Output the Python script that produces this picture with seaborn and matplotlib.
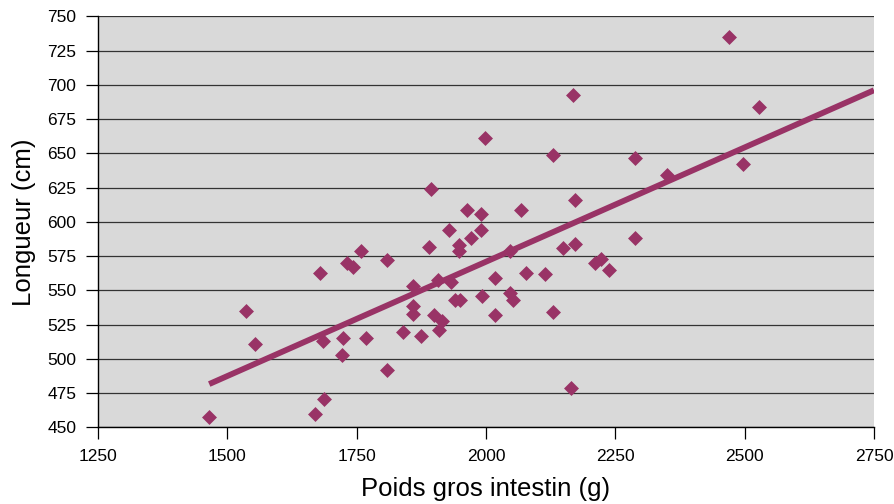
import numpy as np
import pandas as pd
import seaborn as sns
import matplotlib
matplotlib.use("Agg")
import matplotlib.pyplot as plt

# poids du gros intestin (g) et longueur (cm)
poids = [1465, 1537, 1553, 1669, 1680, 1684, 1687, 1722, 1723, 1731,
         1742, 1758, 1769, 1808, 1808, 1839, 1858, 1858, 1858, 1874,
         1890, 1894, 1900, 1907, 1910, 1915, 1928, 1932, 1941, 1948,
         1948, 1950, 1963, 1971, 1990, 1990, 1993, 1998, 2017, 2017,
         2046, 2046, 2053, 2067, 2078, 2114, 2129, 2129, 2148, 2164,
         2169, 2172, 2172, 2211, 2223, 2238, 2288, 2288, 2350, 2470,
         2497, 2528]
longueur = [458, 535, 511, 460, 563, 513, 471, 503, 515, 570,
            567, 579, 515, 572, 492, 520, 553, 539, 533, 517,
            582, 624, 532, 558, 521, 528, 594, 556, 543, 583,
            579, 543, 609, 588, 606, 594, 546, 661, 559, 532,
            579, 548, 543, 609, 563, 562, 649, 534, 581, 479,
            693, 616, 584, 570, 573, 565, 647, 588, 634, 735,
            642, 684]

x_ticks = [1250, 1500, 1750, 2000, 2250, 2500, 2750]
y_ticks = [450, 475, 500, 525, 550, 575, 600, 625, 650, 675, 700, 725, 750]

couleur = "#993366"

df = pd.DataFrame({"poids": poids, "longueur": longueur})

# droite de tendance (moindres carres), prolongee jusqu'a 2750 comme dans Excel
pente, origine = np.polyfit(df["poids"], df["longueur"], 1)
tendance = pd.DataFrame({"poids": [min(poids), x_ticks[-1]]})
tendance["longueur"] = pente * tendance["poids"] + origine

sns.set_style("white")
plt.rcParams["font.family"] = ["Liberation Sans", "DejaVu Sans"]
plt.rcParams["text.color"] = "black"
plt.rcParams["axes.labelcolor"] = "black"
plt.rcParams["xtick.color"] = "black"
plt.rcParams["ytick.color"] = "black"

fig = plt.figure(figsize=(8.94, 5.04), dpi=100)
ax = fig.add_axes([0.1096, 0.1518, 0.8680, 0.8155])
ax.set_facecolor("#D9D9D9")

sns.lineplot(data=tendance, x="poids", y="longueur", ax=ax, color=couleur,
             linewidth=4.2, solid_capstyle="butt", zorder=2)
sns.scatterplot(data=df, x="poids", y="longueur", ax=ax, marker="D", s=58,
                color=couleur, linewidth=0, zorder=3)

ax.set_xlim(x_ticks[0], x_ticks[-1])
ax.set_ylim(y_ticks[0], y_ticks[-1])
ax.set_xticks(x_ticks)
ax.set_yticks(y_ticks)
ax.yaxis.grid(True, color="#333333", linewidth=0.9)
ax.set_axisbelow(True)

for side in ["top", "right"]:
    ax.spines[side].set_visible(False)
for side in ["left", "bottom"]:
    ax.spines[side].set_color("black")
    ax.spines[side].set_linewidth(1)

ax.tick_params(axis="both", direction="out", length=8.5, width=0.9,
               color="black", labelcolor="black", labelsize=12.5, pad=7,
               left=True, bottom=True)

ax.set_xlabel("Poids gros intestin (g)", fontsize=18.5, labelpad=9)
ax.set_ylabel("Longueur (cm)", fontsize=18.5, labelpad=8)

fig.savefig("out.png", dpi=100)
